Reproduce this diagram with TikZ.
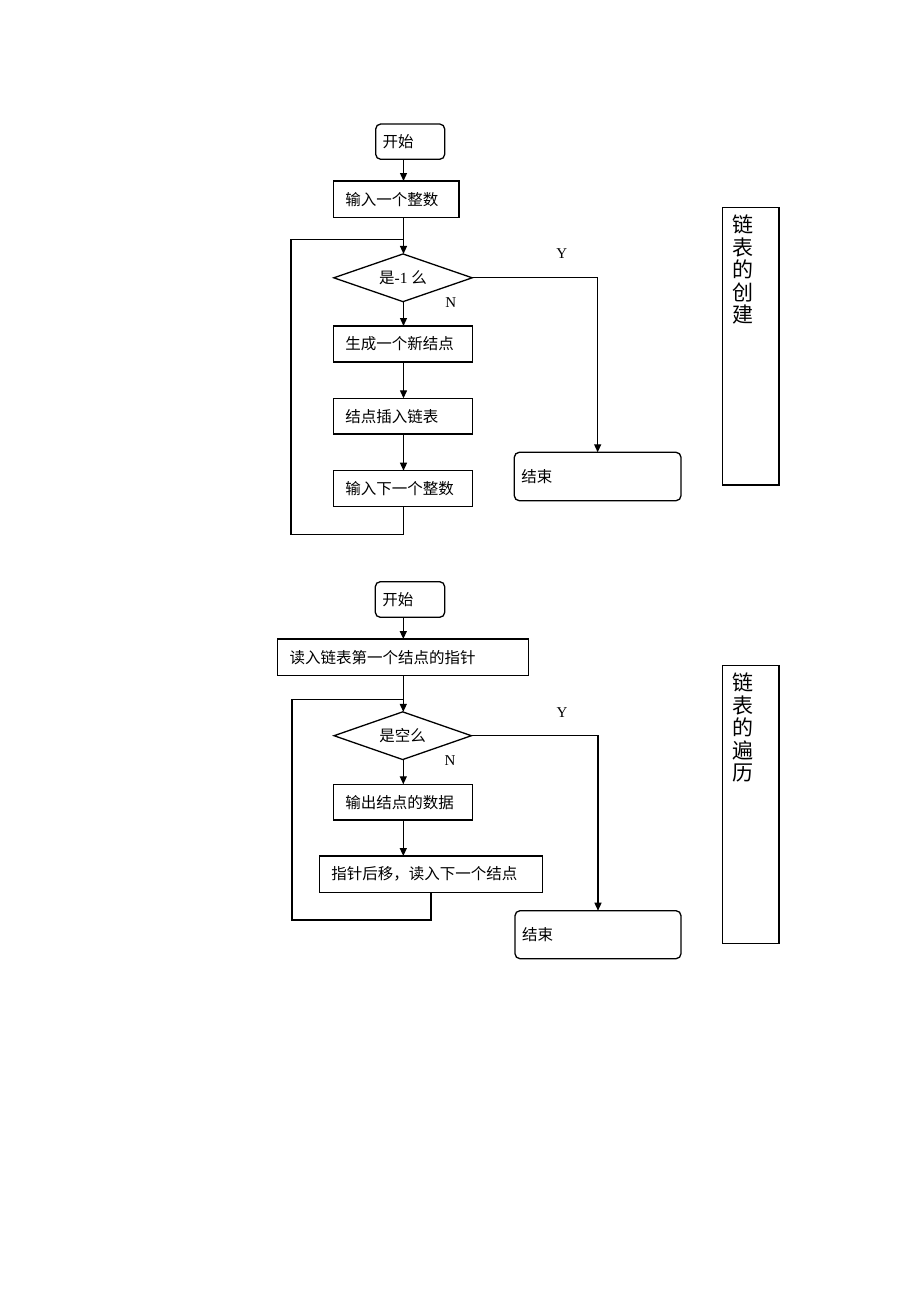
\documentclass[tikz,border=0pt]{standalone}
\usepackage{fontspec}
\setmainfont{Liberation Serif}
\newfontfamily\cjk{Noto Sans CJK SC}
\usetikzlibrary{shapes.geometric,arrows.meta}
\begin{document}
\begin{tikzpicture}[x=1pt,y=-1pt,
  every node/.style={inner sep=0pt, outer sep=0pt},
  lw/.style={line width=1.3pt},
  boxtxt/.style={font=\fontsize{15.5}{18}\selectfont\cjk},
  stepbox/.style={draw, lw, boxtxt, anchor=north west, align=left, inner xsep=12pt},
  roundbox/.style={draw, lw, boxtxt, anchor=north west, align=left, inner xsep=7pt, rounded corners=5pt},
  decision/.style={draw, lw, diamond, shape aspect=2.9, boxtxt, minimum width=138.4pt, minimum height=47.7pt},
  title/.style={draw, lw, anchor=north west, minimum width=56.3pt, minimum height=277.3pt},
  yn/.style={font=\fontsize{15}{17}\selectfont},
  arr/.style={lw, -{Triangle[length=8pt,width=7pt]}},
  line/.style={lw}
]
\useasboundingbox (0,0) rectangle (920,1302);

% ---------- top chart ----------
\coordinate (ax1) at (403.5,0);
\node[roundbox, minimum width=69pt, minimum height=35.3pt, text width=55pt] (s1) at (375.7,124) {开始};
\node[stepbox, minimum width=125.7pt, minimum height=36.3pt, text width=101.7pt] (a1) at (333.3,181) {输入一个整数};
\node[decision] (d1) at (403,277.8) {{\cjk 是}{\rmfamily -1 }{\cjk 么}};
\node[stepbox, minimum width=139.4pt, minimum height=36pt, text width=115.4pt] (b1) at (333.3,326) {生成一个新结点};
\node[stepbox, minimum width=139.4pt, minimum height=35.7pt, text width=115.4pt] (b2) at (333.3,398.3) {结点插入链表};
\node[stepbox, minimum width=139.4pt, minimum height=36pt, text width=115.4pt] (b3) at (333.3,470.7) {输入下一个整数};
\node[roundbox, minimum width=166.7pt, minimum height=48.4pt, text width=152.7pt] (e1) at (514.3,452.3) {结束\\[8pt]};
\node[yn] (y1) at (561.7,254) {Y};
\node[yn] (n1) at (450.7,302.7) {N};
\node[title, label={[anchor=north, inner sep=0pt, xshift=-8pt, yshift=-7pt, align=center,
  font=\fontsize{21}{22.6}\selectfont\cjk]north:链\\表\\的\\创\\建}] (t1) at (722.7,207.7) {};

\coordinate (lb1) at (291,534.3);
\coordinate (lt1) at (291,239.3);
\draw[arr] (ax1 |- s1.south) -- (ax1 |- a1.north);
\draw[arr] (ax1 |- a1.south) -- (ax1 |- d1.north);
\draw[arr] (ax1 |- d1.south) -- (ax1 |- b1.north);
\draw[arr] (ax1 |- b1.south) -- (ax1 |- b2.north);
\draw[arr] (ax1 |- b2.south) -- (ax1 |- b3.north);
\draw[line] (ax1 |- b3.south) |- (lb1) -- (lt1) -- (lt1 -| ax1);
\draw[arr] (d1.east) -| (e1.north);

% ---------- bottom chart ----------
\coordinate (ax2) at (403.3,0);
\node[roundbox, minimum width=69.4pt, minimum height=35.6pt, text width=55.4pt] (s2) at (375.3,581.7) {开始};
\node[stepbox, minimum width=251pt, minimum height=36.3pt, text width=227pt] (a2) at (277.7,639) {读入链表第一个结点的指针};
\node[decision, minimum width=137.3pt] (d2) at (402.7,735.7) {是空么};
\node[stepbox, minimum width=139.4pt, minimum height=35.7pt, text width=115.4pt] (c1) at (333.3,784.3) {输出结点的数据};
\node[stepbox, minimum width=223.4pt, minimum height=36.3pt, text width=199.4pt] (c2) at (319.3,856) {指针后移，读入下一个结点};
\node[roundbox, minimum width=166pt, minimum height=48pt, text width=152pt] (e2) at (515,910.7) {结束\\[8pt]};
\node[yn] (y2) at (562,712.7) {Y};
\node[yn] (n2) at (450,760.7) {N};
\node[title, minimum height=277.6pt, label={[anchor=north, inner sep=0pt, xshift=-8pt, yshift=-7pt, align=center,
  font=\fontsize{21}{22.6}\selectfont\cjk]north:链\\表\\的\\遍\\历}] (t2) at (722.7,665.7) {};

\coordinate (lp2) at (431,920);
\coordinate (lb2) at (292,920);
\coordinate (lt2) at (292,699.3);
\draw[arr] (ax2 |- s2.south) -- (ax2 |- a2.north);
\draw[arr] (ax2 |- a2.south) -- (ax2 |- d2.north);
\draw[arr] (ax2 |- d2.south) -- (ax2 |- c1.north);
\draw[arr] (ax2 |- c1.south) -- (ax2 |- c2.north);
\draw[line] (lp2 |- c2.south) -- (lp2) -- (lb2) -- (lt2) -- (lt2 -| ax2);
\draw[arr] (d2.east) -| (e2.north);
\end{tikzpicture}
\end{document}
